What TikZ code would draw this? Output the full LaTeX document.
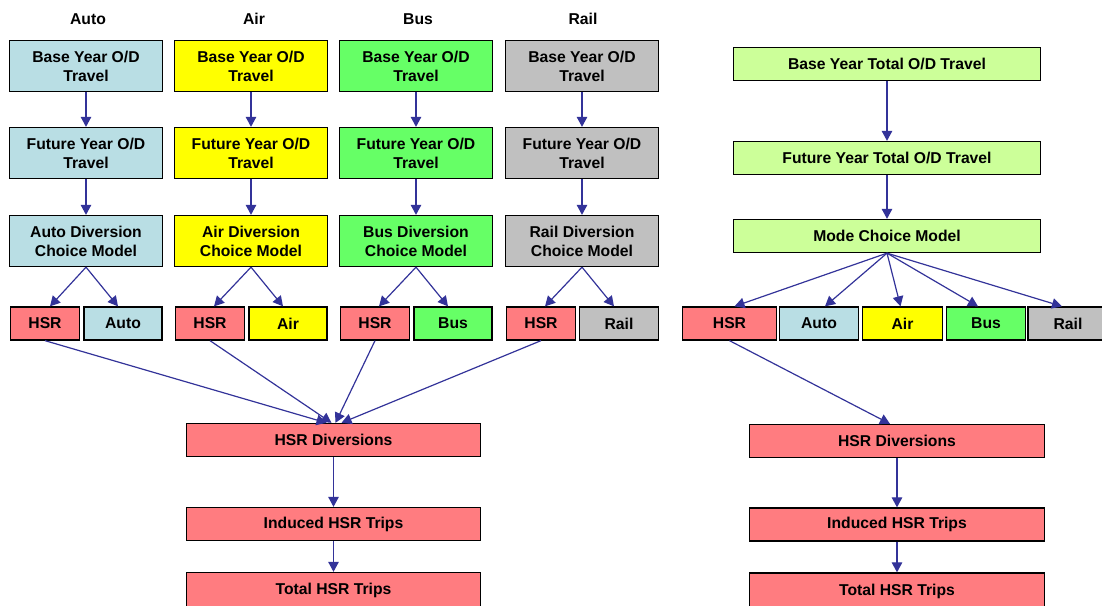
\documentclass[tikz,border=0pt]{standalone}
\usepackage{fontspec}
\setmainfont{Liberation Sans}
\usetikzlibrary{calc,arrows.meta}

\definecolor{autoc}{RGB}{185,222,228}
\definecolor{airc}{RGB}{255,255,0}
\definecolor{busc}{RGB}{102,255,102}
\definecolor{railc}{RGB}{192,192,192}
\definecolor{hsrc}{RGB}{255,124,128}
\definecolor{totc}{RGB}{204,255,153}
\definecolor{flowc}{RGB}{51,51,153}

\begin{document}
\begin{tikzpicture}[x=1pt, y=-1pt,
        box/.style={draw=black, line width=1.3pt, inner sep=0pt, align=center,
            font=\bfseries\fontsize{15.7}{19}\selectfont},
        tall/.style={box, minimum width=153, minimum height=51},
        wide/.style={box, minimum height=33},
        head/.style={font=\bfseries\fontsize{15.7}{19}\selectfont},
        flow/.style={draw=flowc, line width=1.2pt, -{Triangle[length=10pt,width=10.5pt]}}]
        \useasboundingbox (0,0) rectangle (1102,605);

        % per-mode diversion columns
        \node (hAuto) [head] at (88,19) {Auto};
        \node (hAir) [head] at (254,19) {Air};
        \node (hBus) [head] at (418,19) {Bus};
        \node (hRail) [head] at (583,19) {Rail};

        \node (baseAuto) [tall, fill=autoc] at (86,66) {Base Year O/D\\Travel};
        \node (baseAir) [tall, fill=airc] at (251,66) {Base Year O/D\\Travel};
        \node (baseBus) [tall, fill=busc] at (416,66) {Base Year O/D\\Travel};
        \node (baseRail) [tall, fill=railc] at (582,66) {Base Year O/D\\Travel};

        \node (futAuto) [tall, fill=autoc] at (86,153) {Future Year O/D\\Travel};
        \node (futAir) [tall, fill=airc] at (251,153) {Future Year O/D\\Travel};
        \node (futBus) [tall, fill=busc] at (416,153) {Future Year O/D\\Travel};
        \node (futRail) [tall, fill=railc] at (582,153) {Future Year O/D\\Travel};

        \node (divAuto) [tall, fill=autoc] at (86,241) {Auto Diversion\\Choice Model};
        \node (divAir) [tall, fill=airc] at (251,241) {Air Diversion\\Choice Model};
        \node (divBus) [tall, fill=busc] at (416,241) {Bus Diversion\\Choice Model};
        \node (divRail) [tall, fill=railc] at (582,241) {Rail Diversion\\Choice Model};

        \node (hsrAuto) [wide, fill=hsrc, minimum width=69] at (45,323.5) {HSR};
        \node (modeAuto) [wide, fill=autoc, minimum width=78] at (123,323.5) {Auto};
        \node (hsrAir) [wide, fill=hsrc, minimum width=69] at (210,323.5) {HSR};
        \node (modeAir) [wide, fill=airc, minimum width=78] at (288,323.5) {Air};
        \node (hsrBus) [wide, fill=hsrc, minimum width=69] at (375,323.5) {HSR};
        \node (modeBus) [wide, fill=busc, minimum width=78] at (453,323.5) {Bus};
        \node (hsrRail) [wide, fill=hsrc, minimum width=69] at (541,323.5) {HSR};
        \node (modeRail) [wide, fill=railc, minimum width=79] at (619,323.5) {Rail};

        \node (divL) [wide, fill=hsrc, minimum width=294] at (333.5,440) {HSR Diversions};
        \node (indL) [wide, fill=hsrc, minimum width=294] at (333.5,524) {Induced HSR Trips};
        \node (totL) [wide, fill=hsrc, minimum width=294, minimum height=36] at (333.5,590.5) {Total HSR Trips};

        \draw[flow] (baseAuto.south) -- (futAuto.north);
        \draw[flow] (baseAir.south) -- (futAir.north);
        \draw[flow] (baseBus.south) -- (futBus.north);
        \draw[flow] (baseRail.south) -- (futRail.north);
        \draw[flow] (futAuto.south) -- (divAuto.north);
        \draw[flow] (futAir.south) -- (divAir.north);
        \draw[flow] (futBus.south) -- (divBus.north);
        \draw[flow] (futRail.south) -- (divRail.north);

        \draw[flow] (divAuto.south) -- ($(hsrAuto.north) + (5,0)$);
        \draw[flow] (divAuto.south) -- ($(modeAuto.north) + (-5,0)$);
        \draw[flow] (divAir.south) -- ($(hsrAir.north) + (4,0)$);
        \draw[flow] (divAir.south) -- ($(modeAir.north) + (-5,0)$);
        \draw[flow] (divBus.south) -- ($(hsrBus.north) + (4,0)$);
        \draw[flow] (divBus.south) -- ($(modeBus.north) + (-5,0)$);
        \draw[flow] (divRail.south) -- ($(hsrRail.north) + (4,0)$);
        \draw[flow] (divRail.south) -- ($(modeRail.north) + (-5,0)$);

        \draw[flow] (hsrAuto.south) -- ($(divL.north) + (-7,0)$);
        \draw[flow] (hsrAir.south) -- ($(divL.north) + (-2,0)$);
        \draw[flow] (hsrBus.south) -- ($(divL.north) + (2,0)$);
        \draw[flow] (hsrRail.south) -- ($(divL.north) + (8,0)$);
        \draw[flow] (divL.south) -- (indL.north);
        \draw[flow] (indL.south) -- (totL.north);

        % total-travel mode choice column
        \node (baseR) [wide, fill=totc, minimum width=307] at (887,64) {Base Year Total O/D Travel};
        \node (futR) [wide, fill=totc, minimum width=307] at (887,158) {Future Year Total O/D Travel};
        \node (mcR) [wide, fill=totc, minimum width=307] at (887,236) {Mode Choice Model};

        \node (hsrR) [wide, fill=hsrc, minimum width=94] at (729.5,323.5) {HSR};
        \node (autoR) [wide, fill=autoc, minimum width=79] at (819,323.5) {Auto};
        \node (airR) [wide, fill=airc, minimum width=80] at (902.5,323.5) {Air};
        \node (busR) [wide, fill=busc, minimum width=79] at (986,323.5) {Bus};
        \node (railR) [wide, fill=railc, minimum width=80] at (1068,323.5) {Rail};

        \node (divR) [wide, fill=hsrc, minimum width=295] at (897,441) {HSR Diversions};
        \node (indR) [wide, fill=hsrc, minimum width=295] at (897,524.5) {Induced HSR Trips};
        \node (totR) [wide, fill=hsrc, minimum width=295, minimum height=36] at (897,591) {Total HSR Trips};

        \draw[flow] (baseR.south) -- (futR.north);
        \draw[flow] (futR.south) -- (mcR.north);
        \draw[flow] (mcR.south) -- ($(hsrR.north) + (5,0)$);
        \draw[flow] (mcR.south) -- ($(autoR.north) + (6,0)$);
        \draw[flow] (mcR.south) -- ($(airR.north) + (-2,0)$);
        \draw[flow] (mcR.south) -- ($(busR.north) + (-8,0)$);
        \draw[flow] (mcR.south) -- ($(railR.north) + (-6,0)$);
        \draw[flow] (hsrR.south) -- ($(divR.north) + (-7,0)$);
        \draw[flow] (divR.south) -- (indR.north);
        \draw[flow] (indR.south) -- (totR.north);
    \end{tikzpicture}
\end{document}
